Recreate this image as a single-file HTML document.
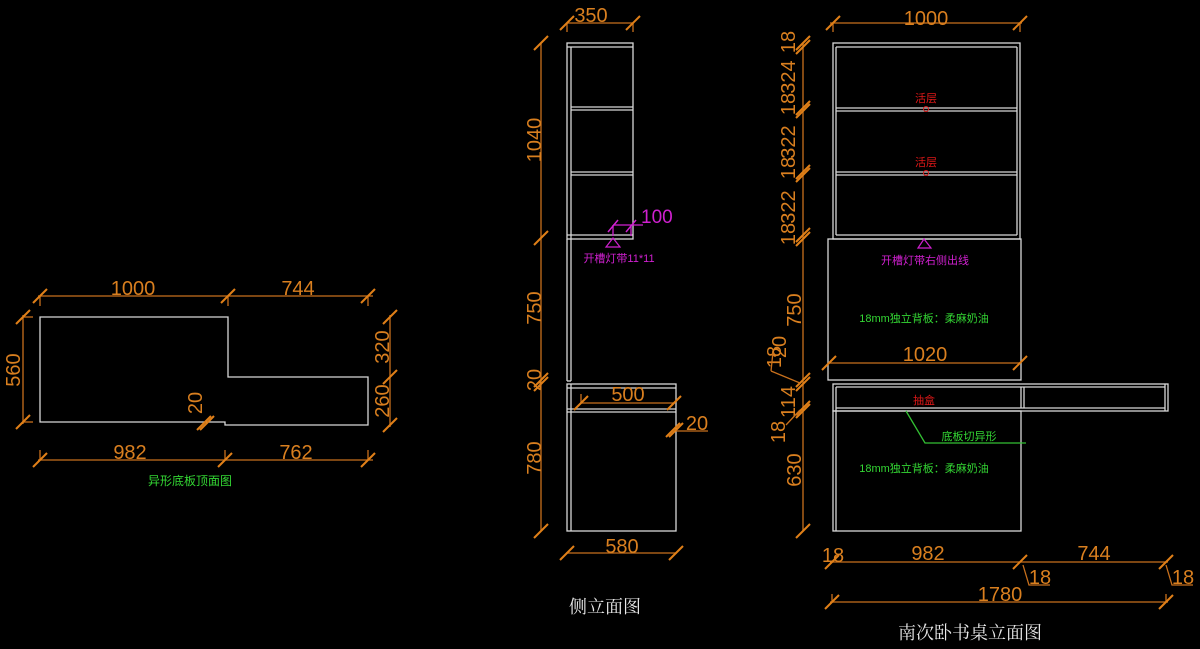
<!DOCTYPE html>
<html><head><meta charset="utf-8"><style>
html,body{margin:0;padding:0;background:#000;}
svg{display:block}
.w{stroke:#d8d8d8;stroke-width:1.3;fill:none}
.o{stroke:#c8701c;stroke-width:1.3;fill:none}
.ot{fill:#d97f1f;font-family:"Liberation Sans",sans-serif;font-size:20px}
.t{stroke:#e07f18;stroke-width:2}
.g{fill:#33d633;font-family:"Liberation Sans","Noto Sans CJK SC",sans-serif;font-size:11px}
.m{fill:#d020d0;font-family:"Liberation Sans","Noto Sans CJK SC",sans-serif;font-size:11px}
.r{fill:#e01818;font-family:"Liberation Sans","Noto Sans CJK SC",sans-serif;font-size:11px}
.ti{fill:#e8e8e8;font-family:"Noto Serif CJK SC","Noto Sans CJK SC",serif;font-size:18px}
</style></head><body>
<svg width="1200" height="649" viewBox="0 0 1200 649" xmlns="http://www.w3.org/2000/svg">
<defs><path id="tk" d="M-7,7 L7,-7" class="t"/></defs>

<!-- Plan view -->
<polygon class="w" points="40,317 228,317 228,377 368,377 368,425 225,425 225,422 40,422"/>
<line class="o" x1="38" y1="296" x2="373" y2="296"/>
<line class="o" x1="40" y1="296" x2="40" y2="306"/><line class="o" x1="228" y1="296" x2="228" y2="306"/><line class="o" x1="368" y1="296" x2="368" y2="306"/>
<use href="#tk" x="40" y="296"/><use href="#tk" x="228" y="296"/><use href="#tk" x="368" y="296"/>
<text class="ot" x="133" y="295" text-anchor="middle">1000</text>
<text class="ot" x="298" y="295" text-anchor="middle">744</text>
<line class="o" x1="23" y1="315" x2="23" y2="424"/>
<line class="o" x1="23" y1="317" x2="33" y2="317"/><line class="o" x1="23" y1="422" x2="33" y2="422"/>
<use href="#tk" x="23" y="317"/><use href="#tk" x="23" y="422"/>
<text class="ot" transform="translate(20,370) rotate(-90)" text-anchor="middle">560</text>
<line class="o" x1="390" y1="315" x2="390" y2="427"/>
<use href="#tk" x="390" y="317"/><use href="#tk" x="390" y="377"/><use href="#tk" x="390" y="425"/>
<text class="ot" transform="translate(389,347) rotate(-90)" text-anchor="middle">320</text>
<text class="ot" transform="translate(389,401) rotate(-90)" text-anchor="middle">260</text>
<text class="ot" transform="translate(202,403) rotate(-90)" text-anchor="middle">20</text>
<use href="#tk" x="204" y="423"/><use href="#tk" x="207" y="423"/>
<line class="o" x1="38" y1="460" x2="373" y2="460"/>
<line class="o" x1="40" y1="450" x2="40" y2="460"/><line class="o" x1="225" y1="450" x2="225" y2="460"/><line class="o" x1="368" y1="450" x2="368" y2="460"/>
<use href="#tk" x="40" y="460"/><use href="#tk" x="225" y="460"/><use href="#tk" x="368" y="460"/>
<text class="ot" x="130" y="459" text-anchor="middle">982</text>
<text class="ot" x="296" y="459" text-anchor="middle">762</text>
<text class="g" x="190" y="485" text-anchor="middle" style="font-size:12px">异形底板顶面图</text>

<!-- Side view -->
<rect class="w" x="567" y="43" width="66" height="196"/>
<line class="w" x1="571" y1="47" x2="571" y2="381"/>
<line class="w" x1="567" y1="47" x2="633" y2="47"/>
<line class="w" x1="571" y1="107" x2="633" y2="107"/><line class="w" x1="571" y1="110" x2="633" y2="110"/>
<line class="w" x1="571" y1="172" x2="633" y2="172"/><line class="w" x1="571" y1="175" x2="633" y2="175"/>
<line class="w" x1="567" y1="235" x2="633" y2="235"/>
<line class="w" x1="567" y1="239" x2="567" y2="381"/><line class="w" x1="567" y1="381" x2="571" y2="381"/>
<rect class="w" x="567" y="384" width="109" height="147"/>
<line class="w" x1="567" y1="388" x2="676" y2="388"/>
<line class="w" x1="567" y1="409" x2="676" y2="409"/><line class="w" x1="567" y1="412" x2="676" y2="412"/>
<line class="w" x1="571" y1="384" x2="571" y2="531"/>
<line class="o" x1="567" y1="23" x2="633" y2="23"/><line class="o" x1="567" y1="23" x2="567" y2="32"/><line class="o" x1="633" y1="23" x2="633" y2="32"/>
<use href="#tk" x="567" y="23"/><use href="#tk" x="633" y="23"/>
<text class="ot" x="591" y="22" text-anchor="middle">350</text>
<line class="o" x1="541" y1="43" x2="541" y2="531"/>
<use href="#tk" x="541" y="43"/><use href="#tk" x="541" y="238"/><use href="#tk" x="541" y="380"/><use href="#tk" x="541" y="384"/><use href="#tk" x="541" y="531"/>
<text class="ot" transform="translate(541,140) rotate(-90)" text-anchor="middle">1040</text>
<text class="ot" transform="translate(541,308) rotate(-90)" text-anchor="middle">750</text>
<text class="ot" transform="translate(541,380) rotate(-90)" text-anchor="middle">20</text>
<text class="ot" transform="translate(541,458) rotate(-90)" text-anchor="middle">780</text>
<line class="o" x1="581" y1="403" x2="674" y2="403"/><line class="o" x1="581" y1="394" x2="581" y2="403"/>
<use href="#tk" x="581" y="403"/><use href="#tk" x="674" y="403"/>
<text class="ot" x="628" y="401" text-anchor="middle">500</text>
<use href="#tk" x="673" y="430"/><use href="#tk" x="676" y="430"/>
<line class="o" x1="676" y1="431" x2="708" y2="431"/>
<text class="ot" x="697" y="430" text-anchor="middle">20</text>
<line class="o" x1="566" y1="553" x2="677" y2="553"/>
<use href="#tk" x="567" y="553"/><use href="#tk" x="676" y="553"/>
<text class="ot" x="622" y="553" text-anchor="middle">580</text>
<!-- magenta -->
<line stroke="#d020d0" stroke-width="1.3" x1="613" y1="225" x2="643" y2="225"/>
<line stroke="#d020d0" stroke-width="1.3" x1="613" y1="225" x2="613" y2="236"/><line stroke="#d020d0" stroke-width="1.3" x1="631" y1="225" x2="631" y2="236"/>
<path d="M608,232 L618,220 M626,232 L636,220" stroke="#d020d0" stroke-width="1.5"/>
<text x="641" y="223" fill="#d020d0" font-family="Liberation Sans,sans-serif" font-size="19">100</text>
<polygon points="613,238 606,247 620,247" fill="none" stroke="#d020d0" stroke-width="1.2"/>
<text class="m" x="619" y="262" text-anchor="middle">开槽灯带11*11</text>
<text class="ti" x="605" y="613" text-anchor="middle">侧立面图</text>

<!-- Front view -->
<rect class="w" x="833" y="43" width="187" height="196"/>
<line class="w" x1="836" y1="47" x2="836" y2="235"/><line class="w" x1="1017" y1="47" x2="1017" y2="235"/>
<line class="w" x1="836" y1="47" x2="1017" y2="47"/>
<line class="w" x1="836" y1="108" x2="1017" y2="108"/><line class="w" x1="836" y1="111" x2="1017" y2="111"/>
<line class="w" x1="836" y1="172" x2="1017" y2="172"/><line class="w" x1="836" y1="175" x2="1017" y2="175"/>
<line class="w" x1="836" y1="235" x2="1017" y2="235"/>
<rect class="w" x="828" y="239" width="193" height="141"/>
<rect class="w" x="833" y="384" width="335" height="27"/>
<line class="w" x1="836" y1="387" x2="1165" y2="387"/><line class="w" x1="836" y1="408" x2="1165" y2="408"/>
<line class="w" x1="836" y1="387" x2="836" y2="531"/><line class="w" x1="1165" y1="384" x2="1165" y2="411"/>
<line class="w" x1="1021" y1="387" x2="1021" y2="408"/><line class="w" x1="1024" y1="387" x2="1024" y2="408"/>
<rect class="w" x="833" y="411" width="188" height="120"/>
<text class="r" x="926" y="102" text-anchor="middle">活层</text><circle cx="926" cy="109" r="2.5" fill="none" stroke="#e01818"/>
<text class="r" x="926" y="166" text-anchor="middle">活层</text><circle cx="926" cy="173" r="2.5" fill="none" stroke="#e01818"/>
<polygon points="924,239 918,248 931,248" fill="none" stroke="#d020d0" stroke-width="1.2"/>
<text class="m" x="925" y="264" text-anchor="middle">开槽灯带右侧出线</text>
<text class="g" x="924" y="322" text-anchor="middle">18mm独立背板：柔麻奶油</text>
<text class="g" x="924" y="472" text-anchor="middle">18mm独立背板：柔麻奶油</text>
<text class="r" x="924" y="404" text-anchor="middle">抽盒</text>
<path d="M906,411 L925,443 L1026,443" stroke="#33c033" stroke-width="1.3" fill="none"/>
<text class="g" x="969" y="440" text-anchor="middle">底板切异形</text>
<line class="o" x1="829" y1="363" x2="1021" y2="363"/>
<use href="#tk" x="829" y="363"/><use href="#tk" x="1020" y="363"/>
<text class="ot" x="925" y="361" text-anchor="middle">1020</text>
<line class="o" x1="830" y1="23" x2="1022" y2="23"/><line class="o" x1="833" y1="23" x2="833" y2="32"/><line class="o" x1="1020" y1="23" x2="1020" y2="32"/>
<use href="#tk" x="833" y="23"/><use href="#tk" x="1020" y="23"/>
<text class="ot" x="926" y="25" text-anchor="middle">1000</text>
<line class="o" x1="803" y1="43" x2="803" y2="531"/>
<use href="#tk" x="803" y="43"/><use href="#tk" x="803" y="47"/><use href="#tk" x="803" y="108"/><use href="#tk" x="803" y="111"/>
<use href="#tk" x="803" y="172"/><use href="#tk" x="803" y="175"/><use href="#tk" x="803" y="235"/><use href="#tk" x="803" y="239"/>
<use href="#tk" x="803" y="380"/><use href="#tk" x="803" y="384"/><use href="#tk" x="803" y="408"/><use href="#tk" x="803" y="411"/><use href="#tk" x="803" y="531"/>
<g class="ot">
<text transform="translate(795,42) rotate(-90)" text-anchor="middle">18</text>
<text transform="translate(795,77) rotate(-90)" text-anchor="middle">324</text>
<text transform="translate(795,104) rotate(-90)" text-anchor="middle">18</text>
<text transform="translate(795,142) rotate(-90)" text-anchor="middle">322</text>
<text transform="translate(795,168) rotate(-90)" text-anchor="middle">18</text>
<text transform="translate(795,207) rotate(-90)" text-anchor="middle">322</text>
<text transform="translate(795,234) rotate(-90)" text-anchor="middle">18</text>
<text transform="translate(801,310) rotate(-90)" text-anchor="middle">750</text>
<text transform="translate(781,357) rotate(-90)" text-anchor="middle">18</text>
<text transform="translate(786,347) rotate(-90)" text-anchor="middle">20</text>
<text transform="translate(795,402) rotate(-90)" text-anchor="middle">114</text>
<text transform="translate(785,432) rotate(-90)" text-anchor="middle">18</text>
<text transform="translate(801,470) rotate(-90)" text-anchor="middle">630</text>
</g>
<path class="o" d="M771,371 L800,383 M771,371 L773,352 M786,425 L800,410"/>
<line class="o" x1="830" y1="562" x2="1168" y2="562"/>
<use href="#tk" x="832" y="562"/><use href="#tk" x="1020" y="562"/><use href="#tk" x="1166" y="562"/>
<text class="ot" x="833" y="562" text-anchor="middle">18</text>
<text class="ot" x="928" y="560" text-anchor="middle">982</text>
<text class="ot" x="1094" y="560" text-anchor="middle">744</text>
<path class="o" d="M1023,565 L1029,585 L1050,585 M1166,565 L1172,585 L1193,585"/>
<text class="ot" x="1040" y="584" text-anchor="middle">18</text>
<text class="ot" x="1183" y="584" text-anchor="middle">18</text>
<line class="o" x1="830" y1="602" x2="1168" y2="602"/>
<line class="o" x1="832" y1="594" x2="832" y2="602"/><line class="o" x1="1166" y1="594" x2="1166" y2="602"/>
<use href="#tk" x="832" y="602"/><use href="#tk" x="1166" y="602"/>
<text class="ot" x="1000" y="601" text-anchor="middle">1780</text>
<text class="ti" x="970" y="639" text-anchor="middle">南次卧书桌立面图</text>
</svg>
</body></html>
